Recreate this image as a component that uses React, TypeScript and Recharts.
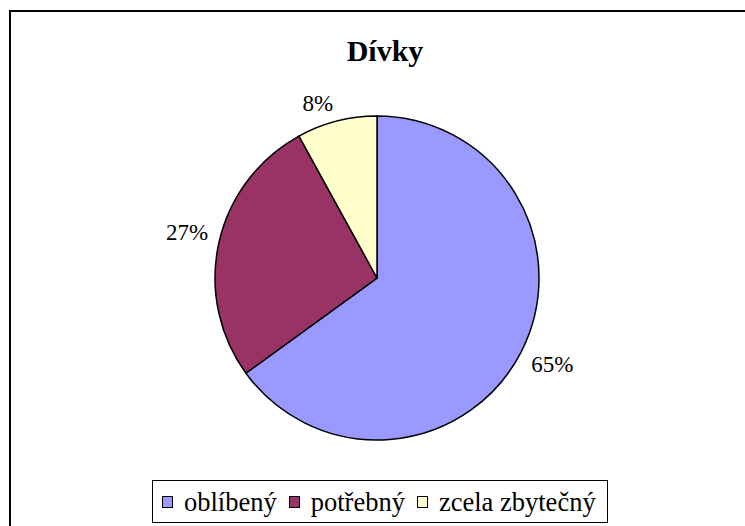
import { PieChart, Pie, Cell, Legend } from 'recharts';

const categories = ['oblíbený', 'potřebný', 'zcela zbytečný'];
const shares = [65, 27, 8];
const palette = ['#9999FF', '#993366', '#FFFFCC'];

const chartData = categories.map((name, i) => ({ name, value: shares[i] }));

const FONT = '"Liberation Serif", "Times New Roman", serif';
const RADIAN = Math.PI / 180;
const LABEL_SIZE = 23;

// label box corner sits just outside the rim, along the slice's mid angle
function renderLabel(props: any) {
  const { cx, cy, midAngle, outerRadius, value } = props;
  const dx = Math.cos(-midAngle * RADIAN);
  const dy = Math.sin(-midAngle * RADIAN);
  const r = outerRadius + 10;
  const px = cx + r * dx;
  const py = cy + r * dy;
  const digitH = LABEL_SIZE * 0.68;
  return (
    <text
      x={px + (dx < 0 ? -1 : 1)}
      y={dy < 0 ? py : py + digitH}
      textAnchor={dx < 0 ? 'end' : 'start'}
      fill="#000"
      fontFamily={FONT}
      fontSize={LABEL_SIZE}
    >
      {`${value}%`}
    </text>
  );
}

function LegendBox() {
  return (
    <div
      style={{
        boxSizing: 'border-box',
        width: 456,
        height: 43,
        border: '1.5px solid #000',
        display: 'flex',
        alignItems: 'center',
        paddingLeft: 9,
        fontFamily: FONT,
        fontSize: 26.5,
        color: '#000',
        whiteSpace: 'nowrap',
      }}
    >
      {categories.map((name, i) => (
        <span key={name} style={{ display: 'flex', alignItems: 'center', marginRight: 12 }}>
          <span
            style={{
              display: 'inline-block',
              width: 9,
              height: 10,
              background: palette[i],
              border: '1px solid #000',
              marginRight: 11,
            }}
          />
          <span style={{ lineHeight: '26px' }}>{name}</span>
        </span>
      ))}
    </div>
  );
}

export default function App() {
  return (
    <div
      style={{
        position: 'fixed',
        left: 0,
        top: 0,
        width: 745,
        height: 526,
        overflow: 'hidden',
        background: '#fff',
      }}
    >
      <div
        style={{
          position: 'absolute',
          left: 9,
          top: 10,
          width: 800,
          height: 600,
          border: '2px solid #000',
        }}
      />
      <div
        style={{
          position: 'absolute',
          left: 0,
          top: 34,
          width: 770,
          textAlign: 'center',
          fontFamily: FONT,
          fontWeight: 'bold',
          fontSize: 30,
          lineHeight: '34px',
          color: '#000',
        }}
      >
        Dívky
      </div>
      <div style={{ position: 'absolute', left: 0, top: 0 }}>
        <PieChart width={745} height={526} margin={{ top: 0, right: 0, bottom: 0, left: 0 }}>
          <Pie
            data={chartData}
            dataKey="value"
            nameKey="name"
            cx={377}
            cy={278}
            outerRadius={162}
            startAngle={90}
            endAngle={-270}
            stroke="#000"
            strokeWidth={1.5}
            label={renderLabel}
            labelLine={false}
            isAnimationActive={false}
          >
            {chartData.map((entry, index) => (
              <Cell key={`cell-${index}`} fill={palette[index]} />
            ))}
          </Pie>
          <Legend
            content={() => <LegendBox />}
            wrapperStyle={{ position: 'absolute', left: 152, top: 480, width: 456, height: 43, bottom: 'auto' }}
          />
        </PieChart>
      </div>
    </div>
  );
}
